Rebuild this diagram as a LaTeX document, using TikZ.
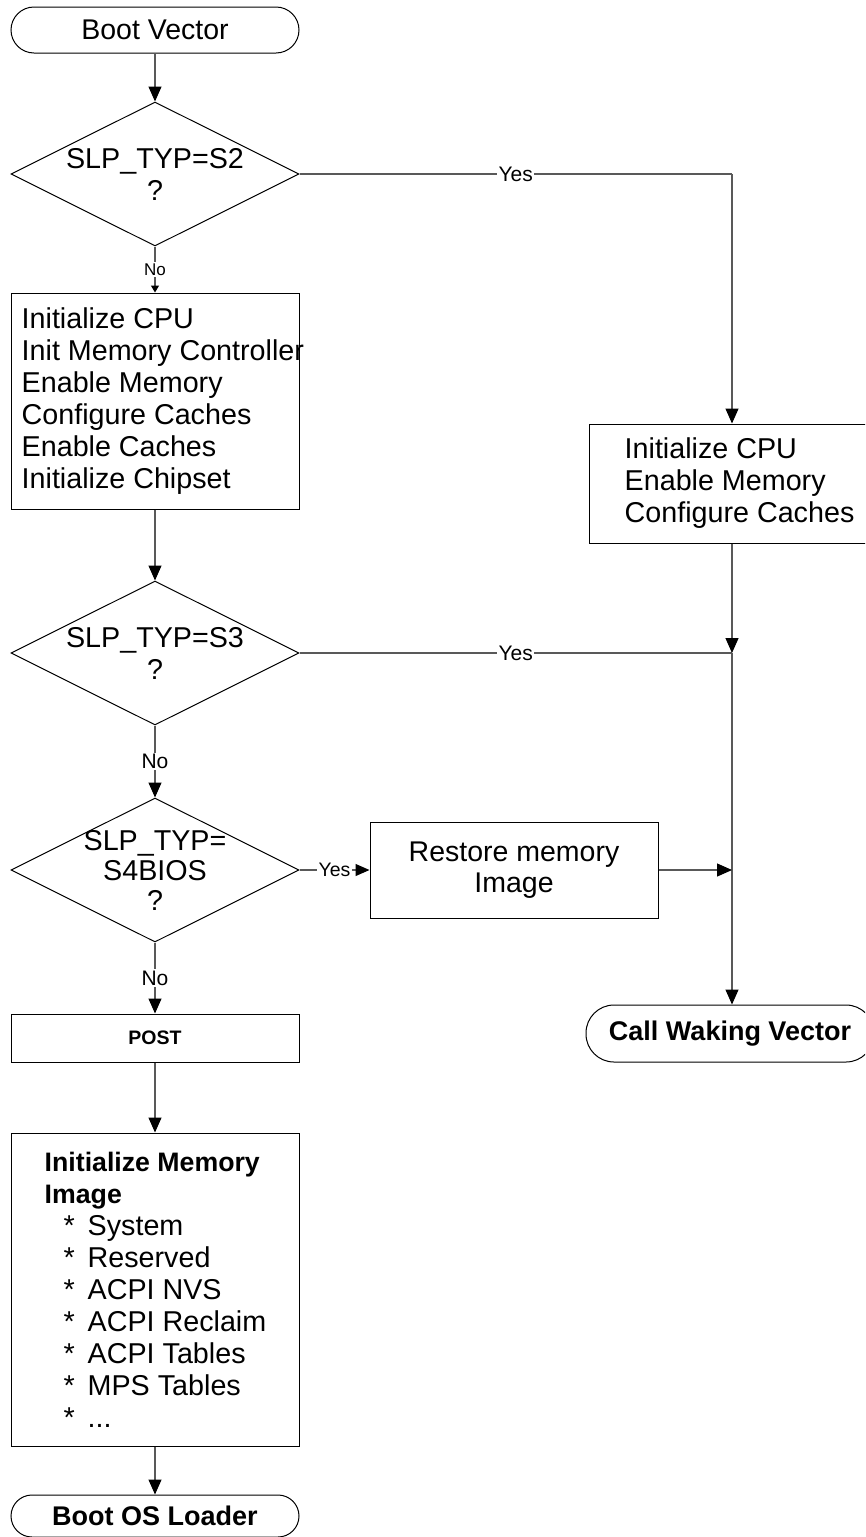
\documentclass[tikz,border=0pt]{standalone}
\usepackage{fontspec}
\setmainfont{Liberation Sans}
\usetikzlibrary{shapes.geometric,arrows.meta}
\begin{document}
\begin{tikzpicture}[x=1pt,y=-1pt,
  box/.style={draw=black, line width=1pt, rectangle, inner sep=0pt},
  term/.style={draw=black, line width=1pt, rectangle, inner sep=0pt, font=\fontsize{27}{32}\selectfont\bfseries},
  dec/.style={draw=black, line width=1pt, diamond, minimum width=288pt, minimum height=144pt, inner sep=0pt},
  dtext/.style={align=center, inner sep=0pt, font=\fontsize{28.7}{32}\selectfont},
  ltext/.style={anchor=west, align=left, inner sep=0pt, font=\fontsize{28.7}{32}\selectfont},
  conn/.style={draw=black!65, line width=1.2pt},
  arr/.style={conn, -{Triangle[length=15pt,width=13pt,color=black]}},
  lbl/.style={fill=white, inner sep=1.5pt, font=\fontsize{21}{23}\selectfont},
]
\useasboundingbox (0,0) rectangle (865,1537);
\clip (0,0) rectangle (865,1537);

% left column
\node[term, font=\fontsize{28.5}{32}\selectfont, minimum width=288pt, minimum height=46pt, rounded corners=23pt] (bv) at (155,30) {Boot Vector};
\node[dec, label={[dtext]center:{SLP\_TYP=S2\\?}}] (d1) at (155,174) {};
\node[box, minimum width=288pt, minimum height=216pt,
  label={[ltext, xshift=11pt]west:{Initialize CPU\\Init Memory Controller\\Enable Memory\\Configure Caches\\Enable Caches\\Initialize Chipset}}] (b1) at (155,401) {};
\node[dec, label={[dtext]center:{SLP\_TYP=S3\\?}}] (d2) at (155,653) {};
\node[dec, label={[dtext, font=\fontsize{28.7}{30}\selectfont]center:{SLP\_TYP=\\S4BIOS\\?}}] (d3) at (155,870) {};
\node[box, minimum width=288pt, minimum height=48pt, font=\fontsize{19.5}{22}\selectfont\bfseries] (post) at (155,1038) {POST};
\node[box, minimum width=288pt, minimum height=313pt,
  label={[ltext, xshift=34pt]west:{{\fontsize{26.7}{32}\selectfont\bfseries Initialize Memory}\\{\fontsize{26.7}{32}\selectfont\bfseries Image}\\
  \hspace*{19pt}\makebox[24pt][l]{*}System\\
  \hspace*{19pt}\makebox[24pt][l]{*}Reserved\\
  \hspace*{19pt}\makebox[24pt][l]{*}ACPI NVS\\
  \hspace*{19pt}\makebox[24pt][l]{*}ACPI Reclaim\\
  \hspace*{19pt}\makebox[24pt][l]{*}ACPI Tables\\
  \hspace*{19pt}\makebox[24pt][l]{*}MPS Tables\\
  \hspace*{19pt}\makebox[24pt][l]{*}...}}] (imi) at (155,1289.5) {};
\node[term, minimum width=288pt, minimum height=42pt, rounded corners=21pt] (bos) at (155,1516) {Boot OS Loader};

% right side
\node[box, minimum width=300pt, minimum height=119pt,
  label={[ltext, xshift=36pt]west:{Initialize CPU\\Enable Memory\\Configure Caches}}] (b2) at (739,483.5) {};
\node[box, minimum width=288pt, minimum height=96pt, align=center, font=\fontsize{28.5}{31}\selectfont] (rst) at (514,870) {Restore memory\\Image};
\node[term, minimum width=288pt, minimum height=57pt, rounded corners=28pt] (cwv) at (730,1033.5) {Call Waking Vector};

\coordinate (c1) at (732,174);
\coordinate (j) at (732,653);

% connectors
\draw[arr] (bv.south) -- (d1.north);
\draw[conn, -{Triangle[length=7pt,width=8pt,color=black]}] (d1.south) -- node[lbl, font=\fontsize{17}{19}\selectfont]{No} (b1.north);
\draw[conn] (d1.east) -- node[lbl]{Yes} (c1);
\draw[arr] (c1) -- (c1 |- b2.north);
\draw[arr] (b1.south) -- (d2.north);
\draw[arr] (d2.south) -- node[lbl]{No} (d3.north);
\draw[conn] (d2.east) -- node[lbl]{Yes} (j);
\draw[arr] (c1 |- b2.south) -- (j);
\draw[arr] (j) -- (j |- cwv.north);
\draw[conn, -{Triangle[length=14pt,width=12pt,color=black]}] (d3.east) -- node[lbl, font=\fontsize{19.5}{21}\selectfont]{Yes} (rst.west);
\draw[arr] (rst.east) -- (rst.east -| j);
\draw[arr] (d3.south) -- node[lbl]{No} (post.north);
\draw[arr] (post.south) -- (imi.north);
\draw[arr] (imi.south) -- (bos.north);
\end{tikzpicture}
\end{document}
